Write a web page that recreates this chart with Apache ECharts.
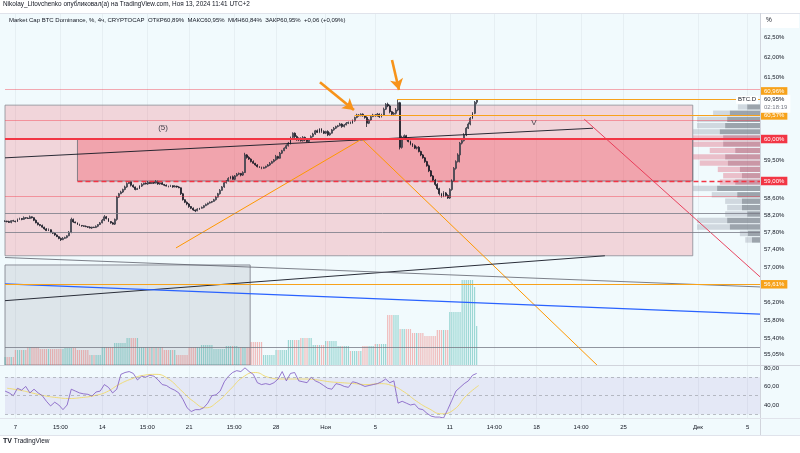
<!DOCTYPE html>
<html><head><meta charset="utf-8">
<script src="https://cdn.jsdelivr.net/npm/echarts@6/dist/echarts.min.js"></script>
<style>html,body{margin:0;padding:0;background:#fff}#c{width:800px;height:453px}</style>
</head><body><div id="c"></div>
<script>
const T = s => Date.parse(s.replace(' ', 'T') + ':00Z');
const H4 = 4 * 3600 * 1000;

// ---------- data ----------
const xStart = '2024-10-06 03:52';
const xEnd = '2024-12-06 00:00';
const firstCandle = '2024-10-06 04:00';
const firstOpen = 58.05;
const closes = [
 58.06,58.05,58.03,58.07,58.06,
 58.05,58.10,58.12,58.10,58.14,58.13,
 58.12,58.16,58.14,58.08,58.02,57.98,
 57.96,57.92,57.88,57.84,57.86,57.80,
 57.78,57.74,57.70,57.66,57.63,57.66,
 57.68,57.72,57.80,58.10,58.04,58.02,
 57.98,57.96,57.95,57.94,57.93,57.92,
 57.90,57.92,57.91,57.94,57.98,58.02,
 58.08,58.16,58.12,58.05,58.02,57.99,
 58.10,58.62,58.70,58.74,58.80,58.86,
 58.94,58.98,58.90,58.86,58.80,58.82,
 58.88,58.92,58.95,58.93,58.97,58.94,
 58.98,58.95,58.99,58.93,58.96,58.92,
 58.90,58.88,58.87,58.89,58.86,58.88,
 58.86,58.84,58.70,58.56,58.50,58.46,
 58.40,58.36,58.32,58.30,58.34,58.36,
 58.38,58.42,58.45,58.48,58.50,58.52,
 58.56,58.62,58.70,58.78,58.86,58.96,
 59.00,59.06,59.10,59.04,59.12,59.16,
 59.18,59.14,59.20,59.62,59.56,59.52,
 59.46,59.42,59.38,59.34,59.32,59.30,
 59.32,59.35,59.38,59.42,59.46,59.50,
 59.58,59.54,59.66,59.72,59.78,59.84,
 59.90,60.04,60.14,60.06,59.98,60.02,
 59.96,60.04,59.98,59.94,60.00,60.06,
 60.12,60.20,60.16,60.24,60.18,60.14,
 60.18,60.10,60.14,60.22,60.26,60.30,
 60.32,60.36,60.30,60.34,60.38,60.40,
 60.38,60.44,60.52,60.58,60.56,60.60,
 60.56,60.52,60.38,60.46,60.54,60.58,
 60.56,60.60,60.54,60.58,60.72,60.84,
 60.80,60.66,60.60,60.62,60.70,60.88,
 59.80,60.04,60.08,60.00,59.94,59.88,
 59.84,59.78,59.80,59.70,59.62,59.55,
 59.46,59.36,59.24,59.12,59.02,58.92,
 58.82,58.70,58.64,58.72,58.66,58.60,
 58.80,59.00,59.30,59.46,59.62,59.90,
 59.96,60.10,60.26,60.36,60.50,60.62,
 60.89,60.95
];
// wick lengths above / below the body, in hundredths of a percent
const wickUp = [
 2,1,2,1,2, 1,2,2,1,3,1, 2,3,1,1,2,1, 1,2,1,2,3,1, 1,2,1,1,2,3, 2,1,3,4,2,1,
 1,2,1,1,2,1, 2,1,1,2,1,2, 3,4,2,1,1,2, 2,3,2,3,2,3, 3,2,1,2,1,2, 2,3,1,2,3,1,
 2,1,3,2,1,2, 1,2,1,2,1,2, 1,2,1,2,1,2, 2,1,2,1,2,1, 2,1,2,1,2,1, 2,3,2,3,2,3,
 2,3,2,3,2,3, 2,1,3,5,2,3, 2,3,1,2,1,2, 2,1,2,3,2,2, 4,2,3,2,2,3, 3,2,2,2,3,2,
 2,3,2,1,2,3, 3,2,3,2,2,3, 2,3,2,2,3,2, 2,3,2,2,3,2, 2,3,2,3,2,2, 2,1,3,2,2,3,
 2,3,2,3,4,3, 4,3,2,3,5,7, 2,4,3,2,3,2, 2,3,2,3,2,2, 2,2,3,2,2,3, 3,2,2,4,2,3,
 3,4,3,3,4,3, 3,4,3,4,3,3, 3,0
];
const wickDn = [
 1,2,1,2,1, 2,1,1,2,1,2, 1,1,2,2,1,2, 2,1,2,1,1,2, 2,2,1,2,3,1, 1,2,1,2,2,1,
 1,1,2,1,1,2, 1,2,1,1,2,1, 1,2,2,1,2,1, 2,3,2,1,2,2, 2,1,3,2,2,1, 1,2,2,1,2,1,
 1,2,1,2,2,1, 2,1,2,1,2,1, 2,1,3,2,2,3, 3,2,2,3,1,2, 1,2,1,2,1,2, 1,2,1,2,1,2,
 2,1,2,1,2,1, 2,3,2,1,3,2, 2,1,2,2,1,2, 1,2,1,2,1,2, 2,3,1,2,1,2, 2,3,2,4,2,3,
 2,2,3,2,2,1, 2,2,1,2,3,2, 2,3,2,1,2,2, 2,1,3,2,1,2, 2,1,2,2,2,1, 2,3,9,2,2,1,
 2,2,3,2,1,2, 3,4,2,2,3,3, 5,3,2,3,2,3, 3,2,3,2,3,2, 3,2,3,2,3,4, 3,4,3,2,3,2,
 2,3,2,3,2,18, 3,2,3,2,3,2, 2,5
];
// daily volume (relative units), the last candle is still forming
const dayVolume = [8,15,18,16,16,17,15,10,18,22, 27,18,18,15,10,18,20,16,19,18,
 23,10,15,25,27,20,24,19,14,19, 21,50,36,32,29,35,53,85,78];
const liveVolume = 39;
// RSI every 8 hours from rsiStart, its moving average once a day
const rsiStart = '2024-10-06 04:00';
const rsi = [55,53,50,58,56,60,53,57,53,50, 44,39,43,40,35,40,57,55,53,52,
 51.5,49.6,54,55,62,59,53,57,73,75, 76,74,67,71,70,72,71,67,62,61,
 58,56,53,46,37,33,35,35,37,42, 50,51,55,65,71,75,77,76,80,76,
 73,64,62,63,62,64,68,76,66,74, 75,66,65,64,70,66,64,61,58,57,
 63,62,60,59,65,64,62,60,61,62, 63,65,68,64,66,42,44,42,40,41,
 36,35,31,28,27,27,26,35,45,55, 59,63,66,72,74];
const rsiMaStart = '2024-10-06 08:00';
const rsiMa = [58,56,53,50,48,47,48,50,54,62, 68,72,73,68,56,44,37,44,57,70,
 75,70,68,68,68,67,65,64,63,62, 63,61,54,44,36,30.5,35,50,61];

const timeLabels = [
 ['2024-10-07 00:00','7'],['2024-10-10 15:00','15:00'],['2024-10-14 00:00','14'],['2024-10-17 15:00','15:00'],
 ['2024-10-21 00:00','21'],['2024-10-24 15:00','15:00'],['2024-10-28 00:00','28'],['2024-11-01 00:00','Ноя'],
 ['2024-11-05 00:00','5'],['2024-11-11 00:00','11'],['2024-11-14 14:00','14:00'],['2024-11-18 00:00','18'],
 ['2024-11-21 14:00','14:00'],['2024-11-25 00:00','25'],['2024-12-01 00:00','Дек'],['2024-12-05 00:00','5']
];
const priceTicks = [62.5, 62, 61.5, 59.5, 58.6, 58.2, 57.8, 57.4, 57, 56.2, 55.8, 55.4, 55.05];
const rsiTicks = [80, 60, 40];
const rsiLevels = [70, 50, 30];

// drawings
const zonePink = [[xStart, 60.82], ['2024-11-30 14:00', 57.26]];
const zoneRed = [['2024-10-12 00:00', 60.00], ['2024-11-30 14:00', 59.00]];
const zoneGray = [[xStart, 57.05], ['2024-10-25 22:00', 54.81]];
const levelsThinRed = [61.21, 60.46, 58.65];
const levelsGray = [58.25, 57.80, 55.21];
const levelMain = 60.00;
const levelLow = ['2024-10-12 00:00', 59.00];
const levelsOrange = [['2024-11-06 18:00', 60.96], ['2024-11-03 08:00', 60.57], [xStart, 56.61]];
const lastPrice = 60.95;
const countdown = '02:18:19';
const trendBlack = [[xStart, 59.55], ['2024-11-22 13:00', 60.26]];
const trendOrangeUp = [['2024-10-19 22:30', 57.44], ['2024-11-03 22:00', 60.00]];
const trendOrangeDown = [['2024-11-03 22:00', 60.00], ['2024-11-22 20:40', 54.81]];
const trendCrimson = [['2024-11-21 20:00', 60.48], [xEnd, 56.78]];
const trendLowBlack = [[xStart, 56.24], ['2024-11-23 12:00', 57.26]];
const trendLowGray = [[xStart, 57.22], [xEnd, 56.55]];
const trendBlue = [[xStart, 56.62], [xEnd, 55.94]];
const arrows = [
 [['2024-10-31 13:00', 61.38], ['2024-11-03 06:45', 60.70]],
 [['2024-11-06 08:20', 61.93], ['2024-11-06 21:50', 61.19]]
];
const notes = [['2024-10-18 21:30', 60.26, '(5)'], ['2024-11-17 19:00', 60.39, 'V']];
// volume profile rows: price high, price low, total, down part, value area flag
const profileRows = [
 [60.85,60.70,33,19,0],[60.70,60.55,70,45,0],[60.55,60.40,94,49,0],[60.40,60.25,94,52,0],
 [60.25,60.10,100,60,0],[60.10,59.95,100,55,1],[59.95,59.80,100,55,1],[59.80,59.65,75,37,1],
 [59.65,59.50,100,52,1],[59.50,59.35,90,48,1],[59.35,59.20,63,30,1],[59.20,59.05,55,27,1],
 [59.05,58.90,60,37,1],[58.90,58.75,100,64,0],[58.75,58.60,72,34,0],[58.60,58.45,52,27,0],
 [58.45,58.30,49,27,0],[58.30,58.15,52,19,0],[58.15,58.00,94,49,0],[58.00,57.85,94,45,0],
 [57.85,57.70,30,18,0],[57.70,57.55,22,12,0]
];

// ---------- build ----------
const FONT = 'Liberation Sans, Arial, sans-serif';
const fmt = v => v.toFixed(2).replace('.', ',') + '%';
const pt = p => [T(p[0]), p[1]];
const candles = closes.map((c, i) => {
  const o = i ? closes[i - 1] : firstOpen;
  return [T(firstCandle) + i * H4, o, c, Math.min(o, c) - wickDn[i] / 100, Math.max(o, c) + wickUp[i] / 100];
});
const volumes = closes.map((c, i) => {
  const o = i ? closes[i - 1] : firstOpen;
  const v = i === closes.length - 1 ? liveVolume : dayVolume[Math.floor((i + 1) / 6)];
  return { value: [T(firstCandle) + i * H4, v],
    itemStyle: { color: c >= o ? 'rgba(38,166,154,0.42)' : 'rgba(239,83,80,0.38)' } };
});
const rsiData = rsi.map((v, i) => [T(rsiStart) + i * 2 * H4, v]);
const rsiMaData = rsiMa.map((v, i) => [T(rsiMaStart) + i * 6 * H4, v]);
const labelMap = {};
timeLabels.forEach(l => { labelMap[T(l[0])] = l[1]; });
const tickVals = timeLabels.map(l => T(l[0]));

const transparent = { color: 'rgba(0,0,0,0)', width: 0.1, type: 'solid' };
const solid = (color, width, extra) => Object.assign({ color, width, type: 'solid' }, extra || {});
const badge = (text, bg, fg, extra) => Object.assign({ show: true, position: 'end', distance: 1,
  formatter: text, backgroundColor: bg, color: fg, padding: [1.5, 3, 1, 3], fontSize: 6, fontFamily: FONT }, extra || {});
const plain = text => ({ show: true, position: 'end', distance: 4, formatter: text, color: '#131722', fontSize: 6, fontFamily: FONT });

const levelData = [];
levelsThinRed.forEach(v => levelData.push({ yAxis: v, lineStyle: solid('#f23645', 0.6, { opacity: 0.7 }), label: { show: false } }));
levelsGray.forEach(v => levelData.push({ yAxis: v, lineStyle: solid('#787b86', 0.8), label: { show: false } }));
levelData.push({ yAxis: levelMain, lineStyle: solid('#f23645', 2), label: badge(fmt(levelMain), '#f23645', '#fff') });
levelData.push([{ coord: pt(levelLow), lineStyle: { color: '#f23645', width: 1.4, type: [5, 3] }, label: badge(fmt(levelLow[1]), '#f23645', '#fff') }, { coord: [T(xEnd), levelLow[1]] }]);
levelsOrange.forEach((l, i) => levelData.push([{ coord: pt(l), lineStyle: solid('#f7a21b', 1.2),
  label: badge(fmt(l[1]), '#f7a21b', '#fff', i === 0 ? { offset: [0, -8] } : {}) }, { coord: [T(xEnd), l[1]] }]));
levelData.push({ yAxis: lastPrice, lineStyle: transparent, label: { show: true, position: 'end', distance: 1, offset: [0, 4],
  formatter: '{a|' + fmt(lastPrice) + '}\n{b|' + countdown + '}', backgroundColor: '#ffffff', padding: [1, 3, 1, 3],
  rich: { a: { color: '#131722', fontSize: 6, fontFamily: FONT, lineHeight: 8 }, b: { color: '#787b86', fontSize: 6, fontFamily: FONT, lineHeight: 8 } } } });
levelData.push({ yAxis: lastPrice, lineStyle: transparent, label: { show: true, position: 'insideEnd', distance: 2,
  formatter: 'BTC.D', color: '#131722', backgroundColor: '#ffffff', padding: [1, 2], fontSize: 6, fontFamily: FONT } });
priceTicks.forEach(v => levelData.push({ yAxis: v, lineStyle: transparent, label: plain(fmt(v)) }));

const lineSeries = (name, pts, color, width, z) => ({ type: 'line', name, xAxisIndex: 0, yAxisIndex: 0,
  data: pts.map(pt), symbol: 'none', lineStyle: { color, width }, z: z || 4, silent: true });

const profileMaxPx = 67;
const xBase = { min: T(xStart), max: T(xEnd), scale: true };

const option = {
  animation: false,
  backgroundColor: '#ffffff',
  textStyle: { fontFamily: FONT },
  title: [
    { text: 'Nikolay_Litovchenko опубликовал(а) на TradingView.com, Ноя 13, 2024 11:41 UTC+2', left: 3, top: 1.5, padding: 0,
      textStyle: { fontSize: 6.4, fontWeight: 'normal', color: '#131722', fontFamily: FONT } },
    { text: 'Market Cap BTC Dominance, %, 4ч, CRYPTOCAP  ОТКР60,89%  МАКС60,95%  МИН60,84%  ЗАКР60,95%  +0,06 (+0,09%)', left: 9, top: 17, padding: 0,
      textStyle: { fontSize: 6, fontWeight: 'normal', color: '#131722', fontFamily: FONT } },
    { text: '%', left: 766, top: 17, padding: 0, textStyle: { fontSize: 6.5, fontWeight: 'normal', color: '#131722', fontFamily: FONT } },
    { text: '{l|TV} TradingView', left: 3, top: 438, padding: 0,
      textStyle: { fontSize: 6.5, fontWeight: 'normal', color: '#131722', fontFamily: FONT, rich: { l: { fontSize: 7, fontWeight: 'bold', color: '#131722' } } } }
  ],
  graphic: [
    { type: 'rect', z: -10, silent: true, shape: { x: 0, y: 13, width: 800, height: 422 }, style: { fill: '#f1fafd' } },
    { type: 'rect', z: -9, silent: true, shape: { x: 761, y: 14, width: 38, height: 14 }, style: { fill: '#ffffff' } },
    { type: 'line', z: 50, silent: true, shape: { x1: 0, y1: 13.5, x2: 800, y2: 13.5 }, style: { stroke: '#e0e3eb', lineWidth: 1 } },
    { type: 'line', z: 50, silent: true, shape: { x1: 760.5, y1: 13, x2: 760.5, y2: 435 }, style: { stroke: '#d1d4dc', lineWidth: 1 } },
    { type: 'line', z: 50, silent: true, shape: { x1: 0, y1: 365.5, x2: 800, y2: 365.5 }, style: { stroke: '#d1d4dc', lineWidth: 1 } },
    { type: 'line', z: 50, silent: true, shape: { x1: 0, y1: 418.5, x2: 800, y2: 418.5 }, style: { stroke: '#e0e3eb', lineWidth: 1 } },
    { type: 'line', z: 50, silent: true, shape: { x1: 0, y1: 435.5, x2: 800, y2: 435.5 }, style: { stroke: '#e0e3eb', lineWidth: 1 } }
  ],
  grid: [
    { left: 5, right: 40, top: 14, height: 351 },
    { left: 5, right: 40, top: 265, height: 100 },
    { left: 5, right: 40, top: 366, height: 52 }
  ],
  xAxis: [
    Object.assign({ type: 'value', gridIndex: 0, axisLabel: { show: false }, axisLine: { show: false },
      axisTick: { show: false, customValues: tickVals }, splitLine: { show: true, lineStyle: { color: 'rgba(42,46,57,0.05)', width: 1 } } }, xBase),
    Object.assign({ type: 'value', gridIndex: 1, show: false, splitLine: { show: false } }, xBase),
    Object.assign({ type: 'value', gridIndex: 2, axisLine: { show: false },
      axisTick: { show: false, customValues: tickVals }, splitLine: { show: true, lineStyle: { color: 'rgba(42,46,57,0.05)', width: 1 } },
      axisLabel: { customValues: tickVals, formatter: v => labelMap[v] || '', color: '#131722', fontSize: 6, margin: 6, fontFamily: FONT, hideOverlap: false } }, xBase)
  ],
  yAxis: [
    { type: 'log', logBase: 10, gridIndex: 0, min: 54.81, max: 63.08, axisLabel: { show: false }, axisLine: { show: false }, axisTick: { show: false }, splitLine: { show: false } },
    { type: 'value', gridIndex: 1, min: 0, max: 100, show: false, splitLine: { show: false } },
    { type: 'value', gridIndex: 2, min: 26, max: 82, axisLabel: { show: false }, axisLine: { show: false }, axisTick: { show: false }, splitLine: { show: false } }
  ],
  series: [
    { type: 'line', name: 'zones', xAxisIndex: 0, yAxisIndex: 0, data: [], z: 1, silent: true,
      markArea: { silent: true, data: [
        [{ coord: pt(zonePink[0]), itemStyle: { color: 'rgba(242,54,69,0.19)', borderColor: '#8a8d96', borderWidth: 0.8 } }, { coord: pt(zonePink[1]) }],
        [{ coord: pt(zoneRed[0]), itemStyle: { color: 'rgba(242,54,69,0.3)', borderColor: '#6a6d78', borderWidth: 0.8 } }, { coord: pt(zoneRed[1]) }],
        [{ coord: pt(zoneGray[0]), itemStyle: { color: 'rgba(120,123,134,0.16)', borderColor: '#787b86', borderWidth: 0.8 } }, { coord: pt(zoneGray[1]) }]
      ] } },
    { type: 'custom', name: 'profile', xAxisIndex: 0, yAxisIndex: 0, z: 2, silent: true, clip: false,
      data: profileRows.map(r => [T(xEnd)].concat(r)), encode: { x: 0, y: 1 },
      renderItem: (params, api) => {
        const p1 = api.coord([api.value(0), api.value(1)]);
        const p2 = api.coord([api.value(0), api.value(2)]);
        const wT = api.value(3) / 100 * profileMaxPx, wD = api.value(4) / 100 * profileMaxPx;
        const va = api.value(5) === 1;
        const y = p1[1] + 0.5, h = Math.max(0.5, p2[1] - p1[1] - 1);
        return { type: 'group', children: [
          { type: 'rect', shape: { x: p1[0] - wT, y, width: wT - wD, height: h }, style: { fill: va ? 'rgba(226,120,140,0.45)' : 'rgba(160,166,178,0.4)' } },
          { type: 'rect', shape: { x: p1[0] - wD, y, width: wD, height: h }, style: { fill: va ? 'rgba(170,70,95,0.55)' : 'rgba(100,106,118,0.6)' } }
        ] };
      } },
    { type: 'bar', name: 'Volume', xAxisIndex: 1, yAxisIndex: 1, data: volumes, barWidth: 1.2, z: 2, silent: true },
    { type: 'candlestick', name: 'BTC.D', xAxisIndex: 0, yAxisIndex: 0, data: candles, barWidth: 1.4, z: 3, silent: true,
      itemStyle: { color: '#ffffff', color0: '#131722', borderColor: '#1e222d', borderColor0: '#131722', borderWidth: 0.75 } },
    lineSeries('trend', trendBlack, '#131722', 0.9),
    lineSeries('orangeUp', trendOrangeUp, '#ff9800', 1),
    lineSeries('orangeDown', trendOrangeDown, '#ff9800', 1),
    lineSeries('crimson', trendCrimson, '#e8314f', 0.9),
    lineSeries('lowBlack', trendLowBlack, '#2a2e39', 1),
    lineSeries('lowGray', trendLowGray, '#5d606b', 0.8),
    lineSeries('blue', trendBlue, '#2962ff', 1.2),
    { type: 'line', name: 'levels', xAxisIndex: 0, yAxisIndex: 0, data: [], z: 5, silent: true,
      markLine: { silent: true, symbol: ['none', 'none'], animation: false, lineStyle: { type: 'solid' }, data: levelData } },
    { type: 'line', name: 'arrows', xAxisIndex: 0, yAxisIndex: 0, data: [], z: 6, silent: true,
      markLine: { silent: true, symbol: ['none', 'arrow'], symbolSize: [10, 11], animation: false, label: { show: false },
        lineStyle: { color: '#f7931a', width: 2.6, type: 'solid' },
        data: arrows.map(a => [{ coord: pt(a[0]) }, { coord: pt(a[1]) }]) } },
    { type: 'scatter', name: 'notes', xAxisIndex: 0, yAxisIndex: 0, symbolSize: 0, z: 6, silent: true,
      data: notes.map(n => ({ value: pt(n), name: n[2] })),
      label: { show: true, position: 'inside', formatter: '{b}', color: '#131722', fontSize: 8, fontFamily: FONT } },
    { type: 'line', name: 'RSI', xAxisIndex: 2, yAxisIndex: 2, data: rsiData, symbol: 'none', z: 4, silent: true,
      lineStyle: { color: '#7e57c2', width: 0.8 },
      markArea: { silent: true, data: [[{ yAxis: 30, itemStyle: { color: 'rgba(126,87,194,0.11)' } }, { yAxis: 70 }]] },
      markLine: { silent: true, symbol: ['none', 'none'], animation: false,
        data: rsiLevels.map(v => ({ yAxis: v, lineStyle: { color: '#9598a1', width: 0.6, type: [3, 3] }, label: { show: false } }))
          .concat(rsiTicks.map(v => ({ yAxis: v, lineStyle: transparent, label: plain(v.toFixed(2).replace('.', ',')) }))) } },
    { type: 'line', name: 'RSI MA', xAxisIndex: 2, yAxisIndex: 2, data: rsiMaData, symbol: 'none', smooth: true, z: 3, silent: true,
      lineStyle: { color: '#f0dc78', width: 1 } }
  ]
};
const chart = echarts.init(document.getElementById('c'), null, { renderer: 'canvas' });
chart.setOption(option);
</script></body></html>
